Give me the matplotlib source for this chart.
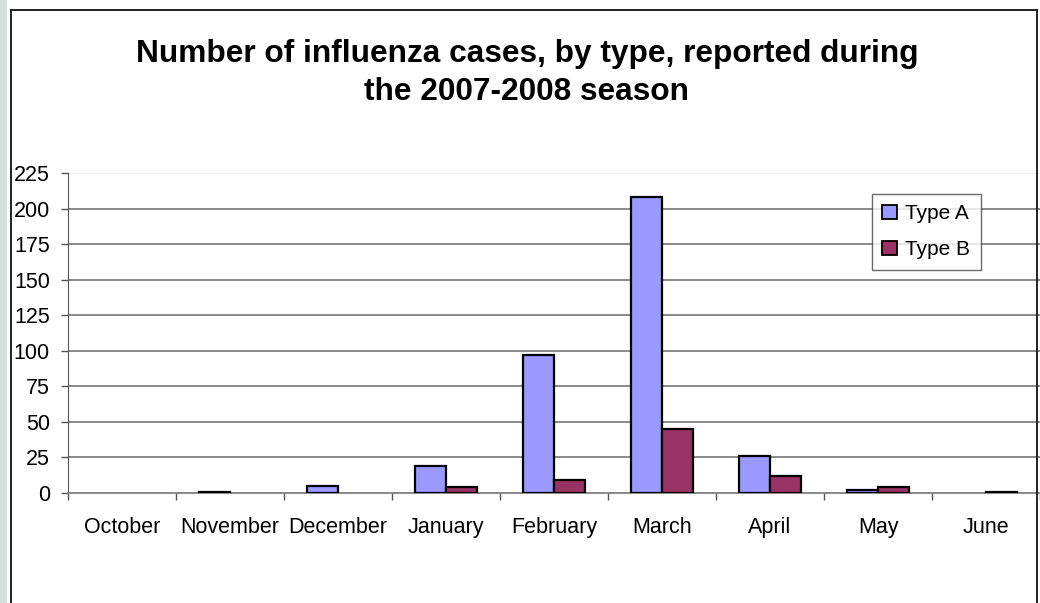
import numpy as np
import matplotlib.pyplot as plt
from matplotlib.patches import Rectangle

plt.rcParams['font.family'] = ['Liberation Sans', 'DejaVu Sans']

# Datos
meses = ["October", "November", "December", "January", "February",
         "March", "April", "May", "June"]
tipo_a = [0, 1, 5, 19, 97, 208, 26, 2, 0]
tipo_b = [0, 0, 0, 4, 9, 45, 12, 4, 1]

color_a = "#9999ff"
color_b = "#993366"

fig = plt.figure(figsize=(10.4, 6.03), dpi=100)

# franja verde a la izquierda y marco del grafico
fig.patches.append(Rectangle((0, 0), 7/1040, 1, transform=fig.transFigure,
                             facecolor="#cfe3da", edgecolor="none", zorder=0))
fig.patches.append(Rectangle((11/1040, -0.05), (1037-11)/1040, 1.05 - 10/603,
                             transform=fig.transFigure, facecolor="none",
                             edgecolor="#222222", linewidth=1.4, zorder=5))

ax = fig.add_axes([68/1040, 1 - 493/603, 972/1040, 320/603])

x = np.arange(len(meses))
w = 1 / 3.5
lw_a = [0 if v == 0 else 1.6 for v in tipo_a]
lw_b = [0 if v == 0 else 1.6 for v in tipo_b]
ax.bar(x - w/2, tipo_a, w, color=color_a, edgecolor="black", linewidth=lw_a,
       label="Type A", zorder=3)
ax.bar(x + w/2, tipo_b, w, color=color_b, edgecolor="black", linewidth=lw_b,
       label="Type B", zorder=3)

ax.set_xlim(-0.5, len(meses) - 0.5)
ax.set_ylim(0, 225)
ax.set_yticks(np.arange(0, 226, 25))
ax.set_xticks(x)
ax.set_xticklabels(meses)
ax.set_xticks(np.arange(-0.5, len(meses), 1), minor=True)
ax.tick_params(axis="x", which="major", length=0, pad=17, labelsize=15.5)
ax.tick_params(axis="x", which="minor", length=5, width=1, color="#555555")
ax.tick_params(axis="y", length=5, width=1, color="#555555", pad=8, labelsize=15.5)

for v in np.arange(25, 201, 25):
    ax.axhline(v, color="#808080", linewidth=1.3, zorder=1)

for s in ["top", "right"]:
    ax.spines[s].set_visible(False)
ax.axhline(225, color="#eeeeee", linewidth=1, zorder=1)
ax.spines["left"].set_color("#555555")
ax.spines["bottom"].set_color("#808080")
ax.spines["bottom"].set_linewidth(1.3)

leg = ax.legend(loc="upper left", bbox_to_anchor=((872-68)/972, (493-194)/320),
                frameon=True, fancybox=False, fontsize=15, handlelength=0.7,
                handleheight=0.7, handletextpad=0.4, borderpad=0.5,
                labelspacing=0.8, borderaxespad=0)
leg.get_frame().set_edgecolor("#444444")
leg.get_frame().set_linewidth(1)
for h in leg.legend_handles:
    h.set_linewidth(1.3)

fig.text(527/1040, 1 - 73/603,
         "Number of influenza cases, by type, reported during\nthe 2007-2008 season",
         ha="center", va="center", fontsize=22.8, fontweight="bold",
         linespacing=1.32)

fig.savefig("out.png", dpi=100)
